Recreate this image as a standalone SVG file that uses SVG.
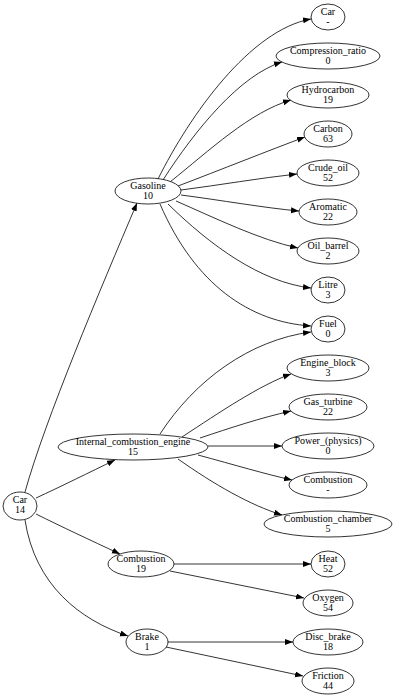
<svg xmlns="http://www.w3.org/2000/svg" width="400" height="698" viewBox="0 0 400 698">
<defs>
<marker id="ah" markerUnits="userSpaceOnUse" markerWidth="9" markerHeight="7" refX="8" refY="3" orient="auto">
<path d="M0,0 L8,3 L0,6 z" fill="#000"/>
</marker>
<style>
ellipse{fill:#fff;stroke:#000;stroke-width:0.8}
text{font-size:10px;text-anchor:middle;fill:#000}
.e path{fill:none;stroke:#000;stroke-width:0.8;marker-end:url(#ah)}
</style>
</defs>
<rect width="400" height="698" fill="#fff"/>
<g class="e" id="edges">
<path d="M25,492 C45,420 100,290 137,203"/>
<path d="M36,498 C60,487 90,472 115,460"/>
<path d="M36,514 C60,526 90,540 120,554"/>
<path d="M25,520 C35,585 80,620 128,636"/>
<path d="M158,179 C190,115 250,30 311,19"/>
<path d="M163,180 C195,130 240,75 282,62"/>
<path d="M170,182 C210,150 250,112 291,100"/>
<path d="M178,186 C220,170 270,150 305,137"/>
<path d="M181,190 C220,185 260,178 297,174"/>
<path d="M181,195 C220,200 265,208 299,211"/>
<path d="M176,201 C215,218 260,240 298,248"/>
<path d="M168,204 C210,245 260,282 311,288"/>
<path d="M160,204 C195,285 250,322 311,326"/>
<path d="M160,434 C195,380 250,340 311,332"/>
<path d="M182,437 C220,412 260,385 291,374"/>
<path d="M200,438 C230,428 260,418 291,411"/>
<path d="M208,446 L282,446"/>
<path d="M198,455 C235,465 265,474 292,480"/>
<path d="M178,459 C215,485 250,505 282,515"/>
<path d="M174,564 L311,564"/>
<path d="M170,571 L304,598"/>
<path d="M168,642 L293,642"/>
<path d="M166,647 L303,676"/>
</g>
<g id="nodes" font-family="'Liberation Serif', 'DejaVu Serif', serif">
<g id="n_car"><ellipse cx="20" cy="506" rx="17" ry="14"/><text x="20" y="502.5">Car</text><text x="20" y="513">14</text></g>
<g id="n_gasoline"><ellipse cx="148" cy="191" rx="33" ry="13"/><text x="148" y="188.5">Gasoline</text><text x="148" y="199">10</text></g>
<g id="n_ice"><ellipse cx="133" cy="447" rx="75" ry="13"/><text x="133" y="444.5">Internal_combustion_engine</text><text x="133" y="455">15</text></g>
<g id="n_combustion19"><ellipse cx="141" cy="564" rx="33" ry="13"/><text x="141" y="561.5">Combustion</text><text x="141" y="572">19</text></g>
<g id="n_brake"><ellipse cx="147" cy="642" rx="21" ry="13"/><text x="147" y="639.5">Brake</text><text x="147" y="650">1</text></g>
<g id="n_car2"><ellipse cx="328" cy="17" rx="17" ry="13"/><text x="328" y="14.5">Car</text><text x="328" y="25">-</text></g>
<g id="n_compression_ratio"><ellipse cx="328" cy="56" rx="52" ry="13"/><text x="328" y="53.5">Compression_ratio</text><text x="328" y="64">0</text></g>
<g id="n_hydrocarbon"><ellipse cx="328" cy="95" rx="41" ry="13"/><text x="328" y="92.5">Hydrocarbon</text><text x="328" y="103">19</text></g>
<g id="n_carbon"><ellipse cx="328" cy="134" rx="24" ry="13"/><text x="328" y="131.5">Carbon</text><text x="328" y="142">63</text></g>
<g id="n_crude_oil"><ellipse cx="328" cy="173" rx="31" ry="13"/><text x="328" y="170.5">Crude_oil</text><text x="328" y="181">52</text></g>
<g id="n_aromatic"><ellipse cx="328" cy="212" rx="29" ry="13"/><text x="328" y="209.5">Aromatic</text><text x="328" y="220">22</text></g>
<g id="n_oil_barrel"><ellipse cx="328" cy="251" rx="31" ry="13"/><text x="328" y="248.5">Oil_barrel</text><text x="328" y="259">2</text></g>
<g id="n_litre"><ellipse cx="328" cy="290" rx="17" ry="13"/><text x="328" y="287.5">Litre</text><text x="328" y="298">3</text></g>
<g id="n_fuel"><ellipse cx="328" cy="329" rx="17" ry="13"/><text x="328" y="326.5">Fuel</text><text x="328" y="337">0</text></g>
<g id="n_engine_block"><ellipse cx="328" cy="368" rx="41" ry="13"/><text x="328" y="365.5">Engine_block</text><text x="328" y="376">3</text></g>
<g id="n_gas_turbine"><ellipse cx="328" cy="407" rx="39" ry="13"/><text x="328" y="404.5">Gas_turbine</text><text x="328" y="415">22</text></g>
<g id="n_power"><ellipse cx="328" cy="446" rx="46" ry="13"/><text x="328" y="443.5">Power_(physics)</text><text x="328" y="454">0</text></g>
<g id="n_combustion2"><ellipse cx="328" cy="485" rx="39" ry="13"/><text x="328" y="482.5">Combustion</text><text x="328" y="493">-</text></g>
<g id="n_combustion_chamber"><ellipse cx="328" cy="524" rx="64" ry="13"/><text x="328" y="521.5">Combustion_chamber</text><text x="328" y="532">5</text></g>
<g id="n_heat"><ellipse cx="328" cy="564" rx="17" ry="13"/><text x="328" y="561.5">Heat</text><text x="328" y="572">52</text></g>
<g id="n_oxygen"><ellipse cx="328" cy="603" rx="25" ry="13"/><text x="328" y="600.5">Oxygen</text><text x="328" y="611">54</text></g>
<g id="n_disc_brake"><ellipse cx="328" cy="642" rx="35" ry="13"/><text x="328" y="639.5">Disc_brake</text><text x="328" y="650">18</text></g>
<g id="n_friction"><ellipse cx="328" cy="681" rx="26" ry="13"/><text x="328" y="678.5">Friction</text><text x="328" y="689">44</text></g>
</g>
</svg>
